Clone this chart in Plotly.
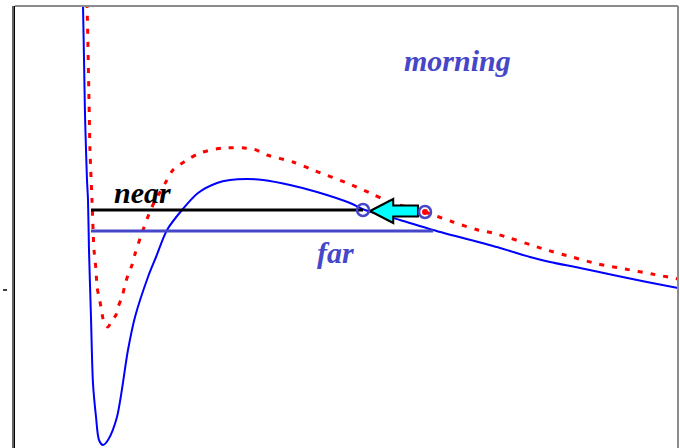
import plotly.graph_objects as go

# Blue solid potential curve (r, E)
blue_r = [1.018, 1.026, 1.041, 1.056, 1.071, 1.086, 1.101, 1.116, 1.146, 1.176, 1.222, 1.267, 1.327,
          1.403, 1.538, 1.704, 1.810, 2.006, 2.127, 2.293, 2.519, 2.760, 3.047, 3.243, 3.499,
          3.741, 4.148, 4.555, 5.053, 5.279, 5.807, 6.305, 7.315, 7.768, 8.069, 8.522, 9.020,
          9.532, 10.0]
blue_E = [6.2, 5.68, 4.6, 3.5, 2.8, 2.2, 1.8, 0.8, -0.54, -1.86, -2.54, -3.0, -3.1,
          -3.0, -2.54, -1.2, -0.54, 0.26, 0.66, 1.2, 1.6, 1.94, 2.14, 2.2, 2.22,
          2.2, 2.1, 1.96, 1.74, 1.6, 1.4, 1.2, 0.84, 0.66, 0.56, 0.44, 0.3,
          0.16, 0.04]

# Red dotted potential curve (r, E)
red_r = [1.071, 1.086, 1.116, 1.131, 1.161, 1.192, 1.222, 1.237, 1.267, 1.297, 1.342, 1.403,
         1.463, 1.523, 1.554, 1.614, 1.659, 1.704, 1.765, 1.810, 1.931, 2.066, 2.293, 2.383,
         2.594, 2.790, 3.137, 3.590, 3.801, 4.193, 4.495, 5.008, 5.354, 5.656, 6.184, 6.606,
         6.983, 7.210, 8.024, 8.401, 8.793, 9.201, 9.608, 10.0]
red_E = [6.0, 5.68, 3.8, 2.8, 1.8, 0.8, 0.4, 0.06, -0.14, -0.34, -0.64, -0.74,
         -0.6, -0.5, -0.34, -0.14, 0.1, 0.3, 0.5, 0.72, 1.2, 1.66, 2.2, 2.4,
         2.6, 2.74, 2.84, 2.82, 2.7, 2.56, 2.4, 2.14, 1.94, 1.76, 1.56, 1.36,
         1.2, 1.14, 0.8, 0.66, 0.52, 0.42, 0.32, 0.22]

# Horizontal levels
near_r = [1.146, 5.249]
near_E = [1.6, 1.6]
far_r = [1.146, 6.305]
far_E = [1.18, 1.18]

# Circle points: near point and far point
pts_r = [5.249, 6.184]
pts_E = [1.6, 1.56]

# Labels
label_text = ["morning", "near", "far"]
label_r = [6.68, 1.93, 4.84]
label_E = [4.6, 1.96, 0.76]
label_color = ["#4646c8", "#000000", "#4646c8"]

LEVEL = "#4646c8"

fig = go.Figure()

fig.add_trace(go.Scatter(x=red_r, y=red_E, mode="lines",
                         line=dict(color="#ff0000", width=3, dash="5px,8px",
                                   shape="spline", smoothing=0.8),
                         hoverinfo="skip"))
fig.add_trace(go.Scatter(x=blue_r, y=blue_E, mode="lines",
                         line=dict(color="#0000ff", width=2, shape="spline", smoothing=0.8),
                         hoverinfo="skip"))
fig.add_trace(go.Scatter(x=near_r, y=near_E, mode="lines",
                         line=dict(color="#000000", width=3), hoverinfo="skip"))
fig.add_trace(go.Scatter(x=far_r, y=far_E, mode="lines",
                         line=dict(color=LEVEL, width=3), hoverinfo="skip"))

# arrow from far point to near point (filled polygon)
tip_x = pts_r[0] + 0.106
tail_x = pts_r[1] - 0.106
yc = 1.58
head_len = 0.35
head_h = 0.24
shaft_h = 0.11
arrow_x = [tip_x, tip_x + head_len, tip_x + head_len, tail_x, tail_x, tip_x + head_len, tip_x + head_len, tip_x]
arrow_y = [yc, yc + head_h, yc + shaft_h, yc + shaft_h, yc - shaft_h, yc - shaft_h, yc - head_h, yc]
fig.add_trace(go.Scatter(x=arrow_x, y=arrow_y, mode="lines", fill="toself",
                         fillcolor="#00ffff", line=dict(color="#000000", width=2),
                         hoverinfo="skip"))

fig.add_trace(go.Scatter(x=pts_r[1:], y=pts_E[1:], mode="markers",
                         marker=dict(size=6, color="#ff0000"), hoverinfo="skip"))
fig.add_trace(go.Scatter(x=pts_r, y=pts_E, mode="markers",
                         marker=dict(size=12, color="rgba(0,0,0,0)",
                                     line=dict(color=LEVEL, width=2.5)),
                         hoverinfo="skip"))

for t, x, y, c in zip(label_text, label_r, label_E, label_color):
    fig.add_annotation(x=x, y=y, text=f"<b><i>{t}</i></b>", showarrow=False,
                       font=dict(family="Liberation Serif, Times New Roman, serif",
                                 size=30, color=c),
                       xanchor="center", yanchor="middle")

# borders
fig.add_shape(type="line", xref="paper", yref="paper", x0=0, x1=1, y0=1, y1=1,
              line=dict(color="#8c8c8c", width=2))
fig.add_shape(type="line", xref="paper", yref="paper", x0=1, x1=1, y0=0, y1=1,
              line=dict(color="#8c8c8c", width=2))
fig.add_shape(type="line", xref="paper", yref="paper", x0=-0.003, x1=-0.003, y0=0, y1=1,
              line=dict(color="#c8c8c8", width=1))
# small tick mark at left
fig.add_shape(type="line", xref="paper", yref="y", x0=-0.018, x1=-0.012, y0=0, y1=0,
              line=dict(color="#404040", width=2))

fig.update_layout(
    width=680, height=448,
    margin=dict(l=15, r=2, t=6, b=0),
    paper_bgcolor="white", plot_bgcolor="white",
    showlegend=False,
    xaxis=dict(range=[0, 10], showgrid=False, zeroline=False, showticklabels=False,
               showline=False, fixedrange=True),
    yaxis=dict(range=[-3.16, 5.68], showgrid=False, zeroline=False, showticklabels=False,
               showline=True, linecolor="#000000", linewidth=3, fixedrange=True),
)

fig.write_html("out.html", config={"displayModeBar": False},
               post_script="document.body.style.margin='0';document.body.style.overflow='hidden';")
